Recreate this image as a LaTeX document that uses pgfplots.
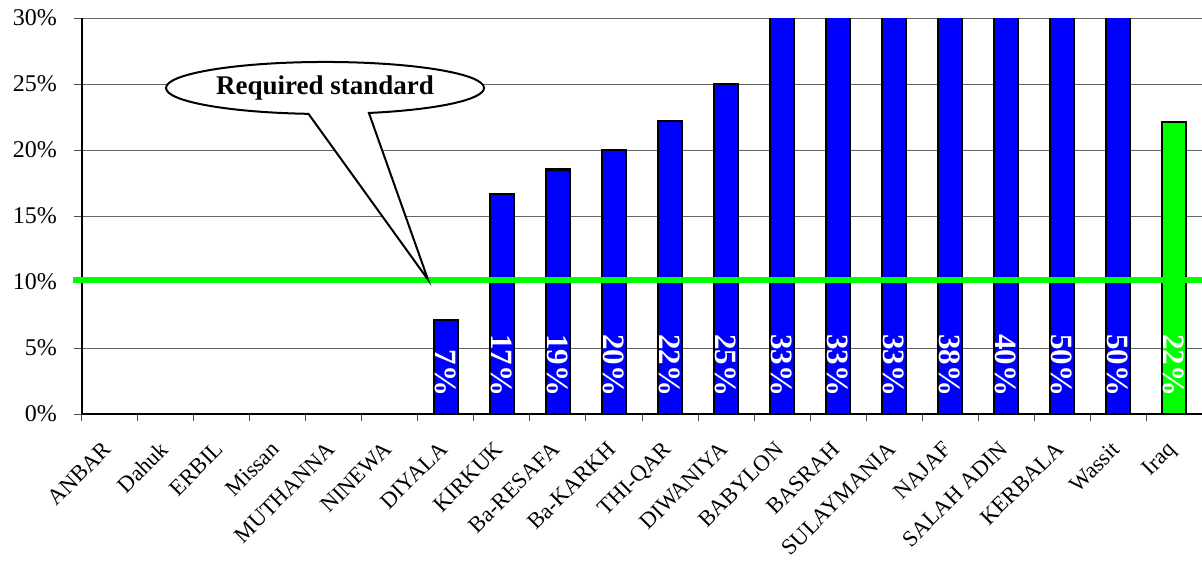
\documentclass[border=0pt]{standalone}
\usepackage{pgfplots}
\pgfplotsset{compat=1.18}
\usepackage{pgfplotstable}
\usepackage{fontspec}
\setmainfont{Liberation Serif}
\usetikzlibrary{shapes.callouts}

% share of schools per region (percent)
\pgfplotstableread{
x v
6 7.14
7 16.67
8 18.52
9 20.0
10 22.22
11 25.0
12 33.33
13 33.33
14 33.33
15 37.5
16 40.0
17 50.0
18 50.0
}\regions
\pgfplotstableread{
x v
19 22.1
}\iraq

\pgfplotsset{
  pctlabel/.style={draw=none,
    nodes near coords={\pgfmathprintnumber[fixed,precision=0,assume math mode=true]{\pgfplotspointmeta}\%},
    point meta=\thisrow{v},
    nodes near coords style={rotate=-90, anchor=east, white, inner sep=0pt,
      font=\bfseries\fontsize{15.5}{15.5}\selectfont}},
}

\begin{document}
\begin{tikzpicture}
\begin{axis}[
  scale only axis, width=560pt, height=198pt,
  xmin=-0.5, xmax=19.5, ymin=0, ymax=30,
  axis x line*=bottom, axis y line*=left,
  axis line style={black, line width=0.8pt},
  tick align=outside,
  major tick length=4pt, minor tick length=3.5pt,
  tick style={gray!60!black, line width=0.5pt},
  ytick={0,5,...,30},
  yticklabels={0\%,5\%,10\%,15\%,20\%,25\%,30\%},
  yticklabel style={xshift=-5pt},
  ymajorgrids, grid style={gray!80!black, line width=0.5pt},
  xtick={0,...,19},
  xticklabels={ANBAR,Dahuk,ERBIL,Missan,MUTHANNA,NINEWA,DIYALA,KIRKUK,Ba-RESAFA,Ba-KARKH,THI-QAR,DIWANIYA,BABYLON,BASRAH,SULAYMANIA,NAJAF,SALAH ADIN,KERBALA,Wassit,Iraq},
  minor xtick={-0.5,0.5,...,19.5},
  major x tick style={draw=none},
  ticklabel style={font=\fontsize{12}{14}\selectfont},
  xticklabel style={font=\fontsize{11.3}{13}\selectfont, xshift=-4pt, yshift=-7.5pt, rotate=45, anchor=north east, inner sep=1pt},
]
\addplot[ybar, bar width=0.42, bar shift=0pt, fill=blue, draw=black, line width=1.2pt] table[x=x, y=v] {\regions};
\addplot[ybar, bar width=0.42, bar shift=0pt, fill=green, draw=black, line width=1.2pt] table[x=x, y=v] {\iraq};

\addplot[pctlabel] table[x=x, y expr=1.3] {\regions};
\addplot[pctlabel] table[x=x, y expr=1.3] {\iraq};

\coordinate (gl) at (axis cs:-0.66,10.17);
\coordinate (gr) at (axis cs:19.5,10.17);
\coordinate (tip) at (axis cs:5.68,10.17);
\coordinate (cc) at (axis cs:3.84,24.7);
\coordinate (bl) at (rel axis cs:-0.0732,-0.3712);
\coordinate (tr) at (rel axis cs:1,1.0455);
\end{axis}

\draw[green, line width=3pt] (gl) -- (gr);
\node[ellipse callout, draw=black, fill=white, line width=1pt,
  minimum width=159pt, minimum height=26pt, inner sep=0pt,
  callout absolute pointer={(tip)}, callout pointer arc=22,
  font=\bfseries\fontsize{13.5}{14}\selectfont] at (cc) {Required standard};

\pgfresetboundingbox
\path[use as bounding box] (bl) rectangle (tr);
\end{tikzpicture}
\end{document}
